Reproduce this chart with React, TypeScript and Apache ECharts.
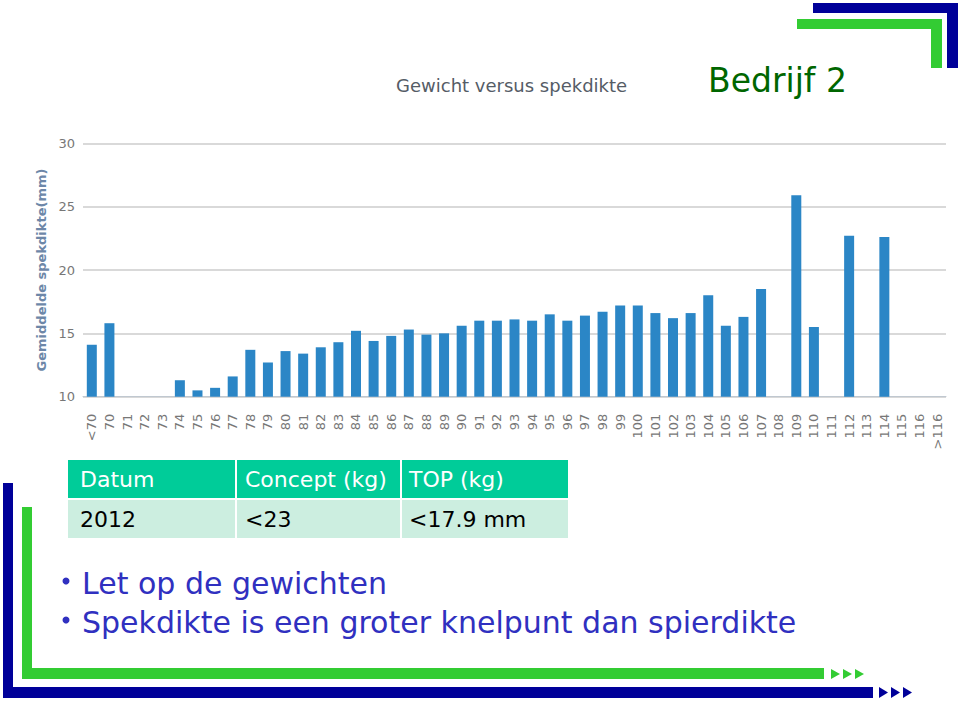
import React, { useEffect, useRef } from "react";
import * as echarts from "echarts";

const categories = [
  "<70", "70", "71", "72", "73", "74", "75", "76", "77", "78", "79", "80", "81", "82", "83", "84",
  "85", "86", "87", "88", "89", "90", "91", "92", "93", "94", "95", "96", "97", "98", "99", "100",
  "101", "102", "103", "104", "105", "106", "107", "108", "109", "110", "111", "112", "113", "114",
  "115", "116", ">116",
];

const spekdikte: (number | null)[] = [
  14.1, 15.8, null, null, null, 11.3, 10.5, 10.7, 11.6, 13.7, 12.7, 13.6, 13.4, 13.9, 14.3, 15.2,
  14.4, 14.8, 15.3, 14.9, 15.0, 15.6, 16.0, 16.0, 16.1, 16.0, 16.5, 16.0, 16.4, 16.7, 17.2, 17.2,
  16.6, 16.2, 16.6, 18.0, 15.6, 16.3, 18.5, null, 25.9, 15.5, null, 22.7, null, 22.6,
  null, null, null,
];

const tableHeader = ["Datum", "Concept (kg)", "TOP (kg)"];
const tableRow = ["2012", "<23", "<17.9 mm"];
const bullets = ["Let op de gewichten", "Spekdikte is een groter knelpunt dan spierdikte"];

const NAVY = "#000099";
const GREEN = "#33CC33";
const HAND = "'Comic Sans MS', 'DejaVu Sans', sans-serif";

export default function App() {
  const ref = useRef<HTMLDivElement>(null);

  useEffect(() => {
    if (!ref.current) return;
    const chart = echarts.init(ref.current, undefined, { renderer: "svg" });

    const colX = [68, 237, 402];
    const colW = [167, 163, 166];
    const textOff = [12, 8, 7];
    const graphics: any[] = [];

    // top-right decoration
    graphics.push({ type: "rect", shape: { x: 813, y: 3, width: 145, height: 10 }, style: { fill: NAVY } });
    graphics.push({ type: "rect", shape: { x: 947, y: 3, width: 11, height: 65 }, style: { fill: NAVY } });
    graphics.push({ type: "rect", shape: { x: 797, y: 19, width: 145, height: 10 }, style: { fill: GREEN } });
    graphics.push({ type: "rect", shape: { x: 931, y: 19, width: 11, height: 49 }, style: { fill: GREEN } });

    // bottom-left decoration
    graphics.push({ type: "rect", shape: { x: 3, y: 483, width: 10, height: 215 }, style: { fill: NAVY } });
    graphics.push({ type: "rect", shape: { x: 3, y: 687, width: 870, height: 11 }, style: { fill: NAVY } });
    graphics.push({ type: "rect", shape: { x: 22, y: 507, width: 10, height: 172 }, style: { fill: GREEN } });
    graphics.push({ type: "rect", shape: { x: 22, y: 668, width: 802, height: 11 }, style: { fill: GREEN } });

    // arrows
    [831, 843, 855].forEach((x) => {
      graphics.push({ type: "polygon", shape: { points: [[x, 669], [x + 9, 674], [x, 679]] }, style: { fill: GREEN } });
    });
    [879, 891, 903].forEach((x) => {
      graphics.push({ type: "polygon", shape: { points: [[x, 687], [x + 9, 692.5], [x, 698]] }, style: { fill: NAVY } });
    });

    // Bedrijf 2
    graphics.push({
      type: "text",
      x: 708,
      y: 80,
      style: { text: "Bedrijf 2", fill: "#006600", font: `33px ${HAND}`, textVerticalAlign: "middle" },
    });

    // table
    for (let c = 0; c < 3; c++) {
      graphics.push({ type: "rect", shape: { x: colX[c], y: 460, width: colW[c], height: 38 }, style: { fill: "#00CC99" } });
      graphics.push({ type: "rect", shape: { x: colX[c], y: 500, width: colW[c], height: 38 }, style: { fill: "#CCEEE0" } });
      graphics.push({
        type: "text",
        x: colX[c] + textOff[c],
        y: 479,
        style: { text: tableHeader[c], fill: "#ffffff", font: `22px ${HAND}`, textVerticalAlign: "middle" },
      });
      graphics.push({
        type: "text",
        x: colX[c] + textOff[c],
        y: 519,
        style: { text: tableRow[c], fill: "#000000", font: `22px ${HAND}`, textVerticalAlign: "middle" },
      });
    }

    // bullets
    bullets.forEach((b, i) => {
      const y = 583 + i * 39;
      graphics.push({ type: "circle", shape: { cx: 66, cy: y - 2, r: 3.5 }, style: { fill: "#3030C0" } });
      graphics.push({
        type: "text",
        x: 82,
        y,
        style: { text: b, fill: "#3030C0", font: `30px ${HAND}`, textVerticalAlign: "middle" },
      });
    });

    chart.setOption({
      animation: false,
      backgroundColor: "#ffffff",
      title: {
        text: "Gewicht versus spekdikte",
        left: 391,
        top: 71,
        textStyle: { color: "#555c66", fontSize: 18, fontWeight: "normal", fontFamily: "'DejaVu Sans', sans-serif" },
      },
      grid: { left: 83, right: 14, top: 143.3, bottom: 305.3, containLabel: false },
      xAxis: {
        type: "category",
        data: categories,
        axisLine: { lineStyle: { color: "#c0c8d0", width: 1 } },
        axisTick: { alignWithLabel: true, length: 5, lineStyle: { color: "#c0c8d0" } },
        axisLabel: {
          rotate: 90,
          interval: 0,
          margin: 17,
          color: "#777777",
          fontSize: 13,
          fontFamily: "'DejaVu Sans', sans-serif",
        },
      },
      yAxis: {
        type: "value",
        min: 10,
        max: 30,
        interval: 5,
        name: "Gemiddelde spekdikte(mm)",
        nameLocation: "middle",
        nameGap: 35,
        nameTextStyle: { color: "#6d87a8", fontSize: 13, fontWeight: "bold", fontFamily: "'DejaVu Sans', sans-serif" },
        axisLine: { show: false },
        axisTick: { show: false },
        axisLabel: { color: "#777777", fontSize: 13, margin: 8, fontFamily: "'DejaVu Sans', sans-serif" },
        splitLine: { lineStyle: { color: "#cccccc", width: 1.5 } },
      },
      series: [
        {
          type: "bar",
          data: spekdikte,
          barWidth: 10,
          itemStyle: { color: "#2b86c6" },
        },
      ],
      graphic: graphics,
    });

    return () => chart.dispose();
  }, []);

  return <div ref={ref} style={{ position: "absolute", left: 0, top: 0, width: 960, height: 702 }} />;
}
